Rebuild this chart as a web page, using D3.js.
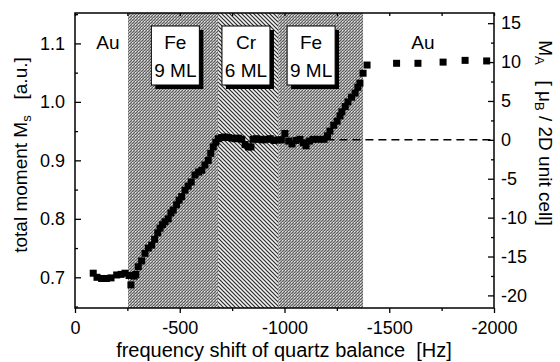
<!DOCTYPE html>
<html>
<head>
<meta charset="utf-8">
<script src="https://cdn.jsdelivr.net/npm/d3@7"></script>
<style>
  body { margin: 0; background: #fff; }
  svg { display: block; font-family: "Liberation Sans", Arial, sans-serif; }
</style>
</head>
<body>
<svg id="chart" width="560" height="362"></svg>
<script>
// frequency shift [Hz] and total moment [a.u.]
const freq = [
  -87, -105, -127, -150, -172, -199, -220, -239, -258, -267, -282, -290,
  -302, -318, -334, -350, -366, -380, -395, -406, -418, -430, -445, -458, -469, -485,
  -497, -509, -525, -540, -555, -573, -590, -605, -620, -636, -648, -660, -672, -684,
  -700, -715, -732, -748, -765, -780, -796, -812, -828, -840, -850, -865, -880, -898,
  -915, -932, -950, -968,
  -985, -1002, -1020, -1036, -1055, -1074, -1090, -1103, -1120, -1136, -1160, -1189,
  -1205, -1217, -1235, -1251, -1265, -1274, -1290, -1303, -1320, -1337, -1350, -1360,
  -1375, -1394,
  -1535, -1637, -1757, -1862, -1965
];
const moment = [
  0.707, 0.700, 0.698, 0.698, 0.699, 0.704, 0.705, 0.707, 0.703, 0.687, 0.702, 0.705,
  0.718, 0.728, 0.741, 0.750, 0.755, 0.765, 0.776, 0.784, 0.790, 0.795, 0.800, 0.810, 0.815, 0.824,
  0.832, 0.838, 0.849, 0.856, 0.863, 0.875, 0.880, 0.883, 0.892, 0.900, 0.912, 0.923, 0.931, 0.937,
  0.939, 0.940, 0.939, 0.938, 0.937, 0.938, 0.936, 0.927, 0.923, 0.923, 0.936, 0.937, 0.936, 0.935,
  0.936, 0.937, 0.934, 0.935,
  0.935, 0.946, 0.933, 0.928, 0.934, 0.936, 0.930, 0.925, 0.933, 0.936, 0.936, 0.936,
  0.942, 0.950, 0.960, 0.967, 0.976, 0.983, 0.992, 1.000, 1.008, 1.015, 1.025, 1.032,
  1.049, 1.063,
  1.066, 1.066, 1.068, 1.071, 1.070
];

// layer regions
const regionStart = [-253, -683, -970];
const regionEnd = [-683, -970, -1375];
const regionKind = ['fe', 'cr', 'fe'];

// boxed labels
const boxAt = [-479, -816, -1127];
const boxTop = ['Fe', 'Cr', 'Fe'];
const boxBottom = ['9 ML', '6 ML', '9 ML'];
const auAt = [-157, -1661];

const xTicks = [0, -500, -1000, -1500, -2000];
const xMinor = [-250, -750, -1250, -1750];
const leftTicks = [0.7, 0.8, 0.9, 1.0, 1.1];
const leftMinor = [0.65, 0.75, 0.85, 0.95, 1.05, 1.15];
const rightTicks = [-20, -15, -10, -5, 0, 5, 10, 15];
const rightMinor = [-17.5, -12.5, -7.5, -2.5, 2.5, 7.5, 12.5];

const svg = d3.select('#chart');
const margin = { top: 13, right: 66, bottom: 54, left: 75 };
const width = +svg.attr('width');
const height = +svg.attr('height');

const x = d3.scaleLinear().domain([0, -2000]).range([margin.left, width - margin.right]);
const yL = d3.scaleLinear().domain([0.6475, 1.152]).range([height - margin.bottom, margin.top]);
const yR = d3.scaleLinear().domain([-21.62, 16.31]).range([height - margin.bottom, margin.top]);

// plain hyphen for negatives, like the original
const hy = (f) => (d) => f(d).replace('\u2212', '-');

// hatch patterns
const defs = svg.append('defs');
const fe = defs.append('pattern').attr('id', 'fe')
    .attr('patternUnits', 'userSpaceOnUse').attr('width', 3).attr('height', 3);
fe.append('rect').attr('width', 3).attr('height', 3).attr('fill', '#a9a9a9');
fe.append('path').attr('d', 'M-1,1 L1,-1 M0,3 L3,0 M2,4 L4,2')
    .attr('stroke', '#4a4a4a').attr('stroke-width', 0.8);
fe.append('rect').attr('x', 0).attr('y', 0).attr('width', 1).attr('height', 1).attr('fill', '#e6e6e6');

const cr = defs.append('pattern').attr('id', 'cr')
    .attr('patternUnits', 'userSpaceOnUse').attr('width', 4).attr('height', 4);
cr.append('rect').attr('width', 4).attr('height', 4).attr('fill', '#f2f2f2');
cr.append('path').attr('d', 'M-1,-1 L5,5 M-1,3 L1,5 M3,-1 L5,1')
    .attr('stroke', '#2a2a2a').attr('stroke-width', 1.2);

svg.append('g')
  .selectAll('rect')
  .data(regionStart)
  .enter().append('rect')
    .attr('x', (d) => x(d))
    .attr('y', margin.top)
    .attr('width', (d, i) => x(regionEnd[i]) - x(d))
    .attr('height', height - margin.bottom - margin.top)
    .attr('fill', (d, i) => `url(#${regionKind[i]})`);

// dashed zero line of M_A
svg.append('line')
    .attr('x1', x(-1200)).attr('x2', x(-2000))
    .attr('y1', yR(0)).attr('y2', yR(0))
    .attr('stroke', '#000').attr('stroke-width', 1.5)
    .attr('stroke-dasharray', '8,5');

// data squares
const s = 7;
svg.append('g')
  .selectAll('rect')
  .data(freq)
  .enter().append('rect')
    .attr('x', (d) => x(d) - s / 2)
    .attr('y', (d, i) => yL(moment[i]) - s / 2)
    .attr('width', s).attr('height', s)
    .attr('fill', '#000');

// boxes with shadows
const boxW = 48, boxH = 59, boxY = 26;
const boxes = svg.append('g').selectAll('g')
  .data(boxAt)
  .enter().append('g');
boxes.append('rect')
    .attr('x', (d) => x(d) - boxW / 2 + 4).attr('y', boxY + 4)
    .attr('width', boxW).attr('height', boxH).attr('fill', '#000');
boxes.append('rect')
    .attr('x', (d) => x(d) - boxW / 2).attr('y', boxY)
    .attr('width', boxW).attr('height', boxH)
    .attr('fill', '#fff').attr('stroke', '#000').attr('stroke-width', 1);
boxes.append('text')
    .attr('x', (d) => x(d)).attr('y', boxY + 23)
    .attr('text-anchor', 'middle').attr('font-size', 19)
    .text((d, i) => boxTop[i]);
boxes.append('text')
    .attr('x', (d) => x(d)).attr('y', boxY + 51)
    .attr('text-anchor', 'middle').attr('font-size', 19)
    .text((d, i) => boxBottom[i]);

svg.append('g').selectAll('text')
  .data(auAt)
  .enter().append('text')
    .attr('x', (d) => x(d)).attr('y', 49)
    .attr('text-anchor', 'middle').attr('font-size', 19)
    .text('Au');

// axes
const bottom = height - margin.bottom;
const right = width - margin.right;
function style(g) {
  g.select('.domain').remove();
  g.selectAll('line').attr('stroke', '#000').attr('stroke-width', 1.3);
  g.selectAll('text').attr('font-size', 18).attr('fill', '#000')
      .attr('font-family', '"Liberation Sans", Arial, sans-serif');
}
svg.append('g').attr('transform', `translate(0,${bottom})`)
    .call(d3.axisBottom(x).tickValues(xTicks).tickSize(5).tickPadding(8).tickFormat(hy(d3.format('d'))))
    .call(style);
svg.append('g').attr('transform', `translate(0,${bottom})`)
    .call(d3.axisBottom(x).tickValues(xMinor).tickSize(3).tickFormat(''))
    .call(style);
svg.append('g').attr('transform', `translate(0,${margin.top})`)
    .call(d3.axisBottom(x).tickValues(xTicks.concat(xMinor)).tickSize(3).tickFormat(''))
    .call(style);
svg.append('g').attr('transform', `translate(${margin.left},0)`)
    .call(d3.axisLeft(yL).tickValues(leftTicks).tickSize(-6).tickPadding(10).tickFormat(d3.format('.1f')))
    .call(style);
svg.append('g').attr('transform', `translate(${margin.left},0)`)
    .call(d3.axisLeft(yL).tickValues(leftMinor).tickSize(-3).tickFormat(''))
    .call(style);
svg.append('g').attr('transform', `translate(${right},0)`)
    .call(d3.axisRight(yR).tickValues(rightTicks).tickSize(-6).tickPadding(7).tickFormat(hy(d3.format('d'))))
    .call(style);
svg.append('g').attr('transform', `translate(${right},0)`)
    .call(d3.axisRight(yR).tickValues(rightMinor).tickSize(-3).tickFormat(''))
    .call(style);

svg.append('rect')
    .attr('x', margin.left).attr('y', margin.top)
    .attr('width', right - margin.left).attr('height', bottom - margin.top)
    .attr('fill', 'none').attr('stroke', '#000').attr('stroke-width', 1.5);

// titles
svg.append('text')
    .attr('x', 284).attr('y', 357)
    .attr('text-anchor', 'middle').attr('font-size', 20)
    .text('frequency shift of quartz balance\u00a0\u00a0[Hz]');

const lt = svg.append('text')
    .attr('transform', 'translate(27,155) rotate(-90)')
    .attr('text-anchor', 'middle').attr('font-size', 19);
lt.append('tspan').text('total moment M');
lt.append('tspan').attr('font-size', 13).attr('dy', 4).text('s');
lt.append('tspan').attr('dy', -4).text('\u00a0\u00a0\u00a0[a.u.]');

const rt = svg.append('text')
    .attr('transform', 'translate(539,133) rotate(90)')
    .attr('text-anchor', 'middle').attr('font-size', 19);
rt.append('tspan').text('M');
rt.append('tspan').attr('font-size', 13).attr('dy', 4).text('A');
rt.append('tspan').attr('dy', -4).text('\u00a0\u00a0\u00a0[ \u03bc');
rt.append('tspan').attr('font-size', 13).attr('dy', 4).text('B');
rt.append('tspan').attr('dy', -4).text(' / 2D unit cell]');
</script>
</body>
</html>
